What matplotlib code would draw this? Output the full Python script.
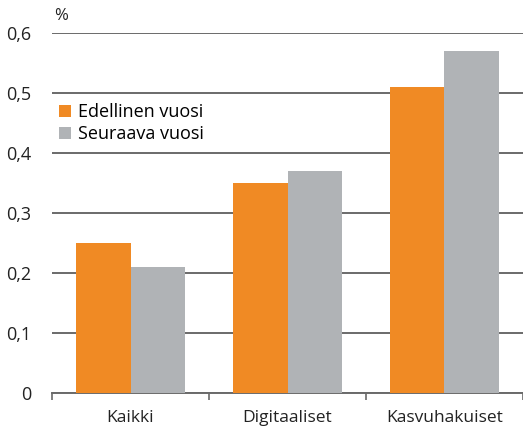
import numpy as np
import matplotlib
matplotlib.use('Agg')
import matplotlib.pyplot as plt
from matplotlib.ticker import FixedLocator, FuncFormatter

plt.rcParams['font.family'] = ['Open Sans', 'DejaVu Sans']

# Data
categories = ['Kaikki', 'Digitaaliset', 'Kasvuhakuiset']
edellinen = [0.25, 0.35, 0.51]
seuraava = [0.21, 0.37, 0.57]
yticks = [0, 0.1, 0.2, 0.3, 0.4, 0.5, 0.6]

orange = '#F08A24'
grey = '#B0B3B6'
line_col = '#6a6a6a'
text_col = '#222222'

fig = plt.figure(figsize=(5.23, 4.26), dpi=100)
ax = fig.add_axes([52 / 523, 33 / 426, 1 - 52 / 523, 360 / 426])

x = np.arange(len(categories))
w = 0.347
ax.bar(x - w / 2, edellinen, width=w, color=orange, label='Edellinen vuosi', zorder=3)
ax.bar(x + w / 2, seuraava, width=w, color=grey, label='Seuraava vuosi', zorder=3)

ax.set_xlim(-0.5, 2.5)
ax.set_ylim(0, 0.6)
ax.set_yticks(yticks)
ax.yaxis.set_major_formatter(FuncFormatter(lambda v, p: '0' if v == 0 else f'{v:.1f}'.replace('.', ',')))
ax.tick_params(axis='y', length=0, pad=15, labelsize=13, labelcolor=text_col)

# Category labels and boundary ticks
ax.set_xticks(x)
ax.set_xticklabels(categories)
ax.tick_params(axis='x', which='major', length=0, pad=12, labelsize=12.5, labelcolor=text_col)
ax.xaxis.set_minor_locator(FixedLocator([-0.5, 0.5, 1.5, 2.5]))
ax.tick_params(axis='x', which='minor', length=5, width=1.2, color=line_col, direction='out')

ax.grid(axis='y', color=line_col, linewidth=1.4, zorder=0)
ax.set_axisbelow(True)
for s in ['top', 'right', 'left']:
    ax.spines[s].set_visible(False)
ax.spines['bottom'].set_color(line_col)
ax.spines['bottom'].set_linewidth(1.4)

ax.text(0.005, 1.025, '%', transform=ax.transAxes, fontsize=12, color=text_col, va='bottom')

leg = ax.legend(loc='upper left', bbox_to_anchor=(0.015, 0.805), frameon=False, fontsize=13,
                handlelength=0.65, handleheight=0.65, handletextpad=0.4, labelspacing=0.22,
                borderaxespad=0, borderpad=0)
leg.set_zorder(5)

fig.savefig('out.png', dpi=100)
